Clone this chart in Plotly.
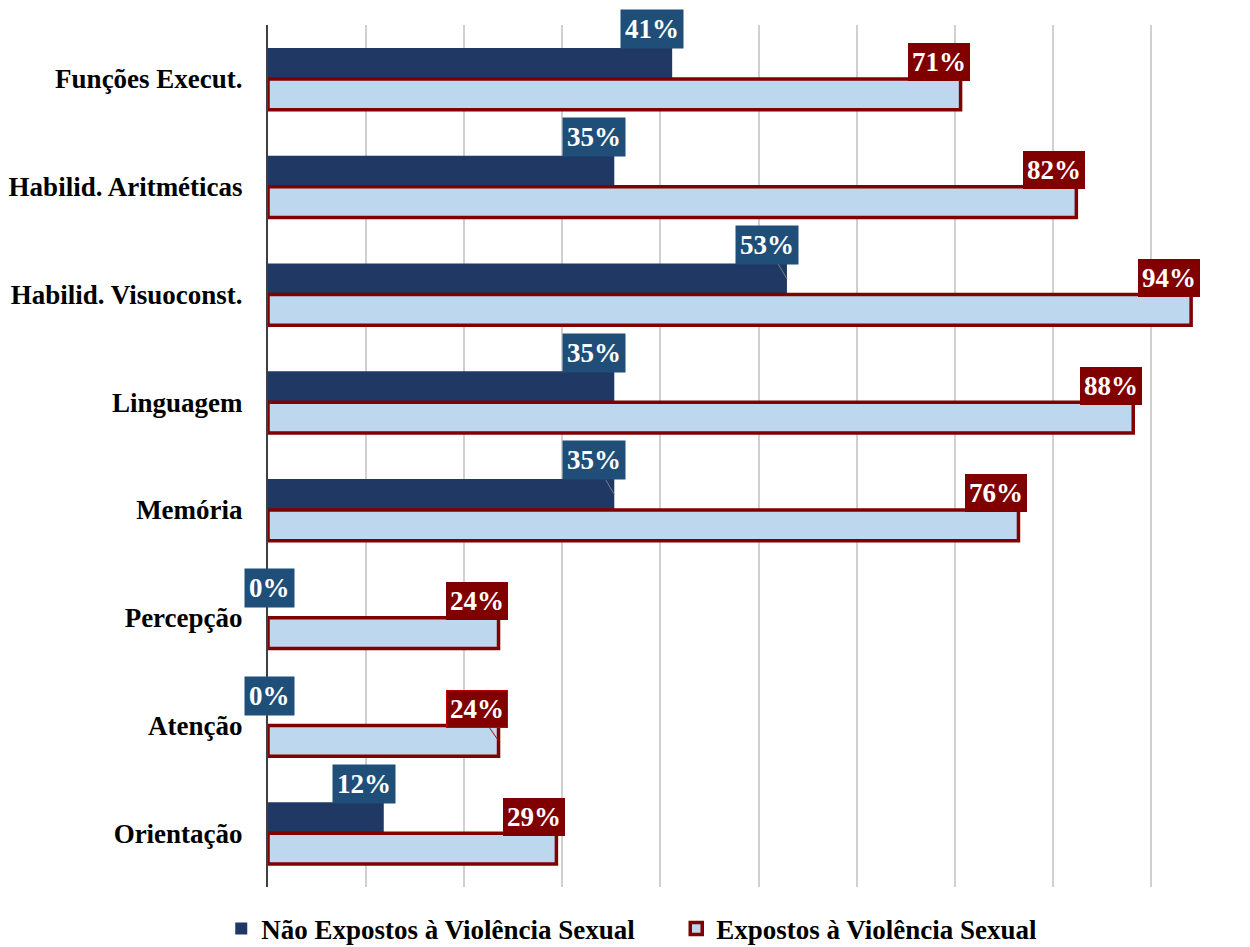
import plotly.graph_objects as go

categories = ["Funções Execut.", "Habilid. Aritméticas", "Habilid. Visuoconst.",
              "Linguagem", "Memória", "Percepção", "Atenção", "Orientação"]
nao_expostos = [0.412, 0.353, 0.529, 0.353, 0.353, 0.000, 0.000, 0.118]
expostos = [0.706, 0.824, 0.941, 0.882, 0.765, 0.235, 0.235, 0.294]
nao_expostos_labels = ["41%", "35%", "53%", "35%", "35%", "0%", "0%", "12%"]
expostos_labels = ["71%", "82%", "94%", "88%", "76%", "24%", "24%", "29%"]
series_names = ["Não Expostos à Violência Sexual", "Expostos à Violência Sexual"]
leader_dark = {"Habilid. Visuoconst.", "Memória"}
leader_red = {"Atenção"}

NAVY = "#203864"
NAVY_LABEL = "#1F4E79"
RED = "#800000"
LIGHT = "#BDD7EE"
FONT = "Liberation Serif, Times New Roman, serif"
FS = 27

fig = go.Figure()
fig.add_trace(go.Bar(
    y=categories, x=nao_expostos, orientation="h", name=series_names[0],
    marker=dict(color=NAVY, line=dict(width=0)),
))
fig.add_trace(go.Bar(
    y=categories, x=expostos, orientation="h", name=series_names[1],
    marker=dict(color=LIGHT, line=dict(color=RED, width=3.5)),
))

half = 15.5  # half bar height in px
for cat, v, lab in zip(categories, nao_expostos, nao_expostos_labels):
    zero = v == 0
    fig.add_annotation(
        x=v, y=cat, yshift=half, ax=1 if zero else -20, ay=-14 if zero else -34,
        axref="pixel", ayref="pixel",
        text=lab, showarrow=True, arrowhead=0, arrowwidth=1,
        arrowcolor="#7F7F7F" if cat in leader_dark else "rgba(0,0,0,0)",
        bgcolor=NAVY_LABEL, borderpad=4,
        font=dict(family=FONT, size=FS, color="white", weight="bold"),
    )
for cat, v, lab in zip(categories, expostos, expostos_labels):
    fig.add_annotation(
        x=v, y=cat, yshift=-half, ax=-22, ay=-32,
        axref="pixel", ayref="pixel",
        text=lab, showarrow=True, arrowhead=0, arrowwidth=1,
        arrowcolor="#C00000" if cat in leader_red else "rgba(0,0,0,0)",
        bgcolor=RED, borderpad=3,
        bordercolor="#C00000" if cat in leader_red else RED, borderwidth=1,
        font=dict(family=FONT, size=FS, color="white", weight="bold"),
    )

fig.update_layout(
    width=1250, height=947,
    margin=dict(l=268, r=1, t=25, b=60, autoexpand=False),
    paper_bgcolor="white", plot_bgcolor="white",
    barmode="group", bargap=0.425, bargroupgap=0,
    font=dict(family=FONT, size=FS, color="black"),
    showlegend=True,
    legend=dict(
        orientation="h", xref="container", yref="container",
        x=0.177, y=0.019, xanchor="left", yanchor="middle",
        font=dict(family=FONT, size=FS, color="black", weight="bold"),
        entrywidth=410, entrywidthmode="pixels", traceorder="normal",
    ),
    xaxis=dict(
        range=[0, 1.0], dtick=0.1, showticklabels=False,
        showgrid=True, gridcolor="#D0D0D0", gridwidth=2,
        zeroline=False, showline=False, fixedrange=True,
    ),
    yaxis=dict(
        range=[7.5, -0.5], showgrid=False,
        showline=True, linecolor="#404040", linewidth=2,
        ticks="", ticklabelstandoff=18,
        tickfont=dict(family=FONT, size=FS, color="black", weight="bold"),
    ),
)

fig.write_html("out.html")
